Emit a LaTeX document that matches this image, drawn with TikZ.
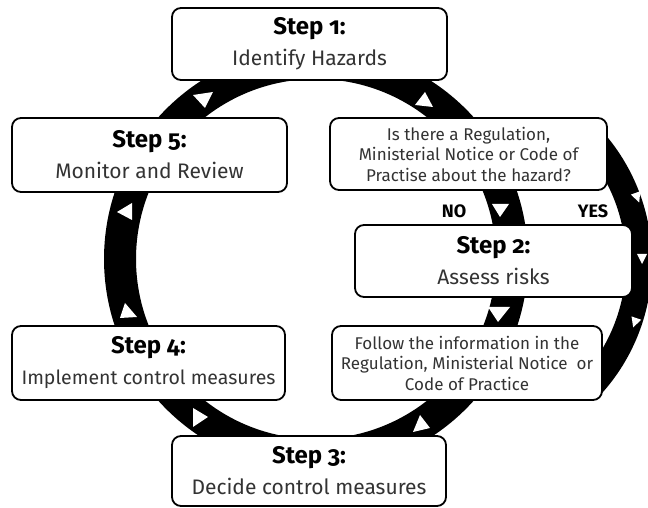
\documentclass[tikz,border=0pt]{standalone}
\usepackage{fontspec}
\setmainfont{Fira Sans}[Numbers=OldStyle]
\usetikzlibrary{calc}
\begin{document}
\begin{tikzpicture}[x=1pt,y=1pt,
  box/.style={draw=black, line width=1.8pt, rounded corners=9pt, fill=white, align=center, inner sep=0pt,
    font=\fontsize{21}{31}\selectfont, text=black!80},
  smallbox/.style={box, font=\fontsize{17}{20.5}\selectfont},
  tri/.style={fill=white, draw=none},
  lbl/.style={font=\fontsize{18}{18}\selectfont\bfseries, text=black, inner sep=0pt}]
\newcommand\stephead[1]{{\fontsize{24}{31}\selectfont\bfseries\color{black}#1}}
\useasboundingbox (0,0) rectangle (648,508);
\begin{scope}
\clip (0,0) rectangle (648,508);
% main ring
\fill[black, even odd rule] (316,249) circle[radius=212pt] (316,249) circle[radius=180pt];
% bypass (YES) arc
\coordinate (bc) at (455,246);
\fill[black] ($(bc)+(43:197pt)$) arc[start angle=43, end angle=-43, radius=197pt]
  -- ($(bc)+(-43:171pt)$) arc[start angle=-43, end angle=43, radius=171pt] -- cycle;
\end{scope}
% white arrow marks on the ring
\fill[tri] (193,413) -- (213,416) -- (205,400) -- cycle;
\fill[tri] (425,416) -- (415,403) -- (433,401) -- cycle;
\fill[tri] (117,296) -- (132,305) -- (132,288) -- cycle;
\fill[tri] (120,190) -- (125,205) -- (137,191) -- cycle;
\fill[tri] (193,100) -- (193,81) -- (208,91) -- cycle;
\fill[tri] (420,93) -- (413,76) -- (430,80) -- cycle;
\fill[tri] (492,304) -- (509,304) -- (500,291) -- cycle;
\fill[tri] (488,201) -- (510,201) -- (498,186) -- cycle;
\fill[tri] (639.2,305.5) -- (640.3,316.8) -- (630.9,313.4) -- cycle;
\fill[tri] (642,244) -- (637,254) -- (647,254) -- cycle;
\fill[tri] (633.2,180.5) -- (641.1,188.3) -- (631.5,191.6) -- cycle;
% boxes
\node[box, minimum width=275pt, minimum height=72pt] (s1) at (309.5,464)
  {\stephead{Step 1:}\\Identify Hazards};
\node[box, minimum width=275pt, minimum height=74pt] (s5) at (149.5,353)
  {\stephead{Step 5:}\\Monitor and Review};
\node[smallbox, minimum width=277pt, minimum height=72pt] (q) at (468.5,354)
  {Is there a Regulation,\\Ministerial Notice or Code of\\Practise about the hazard?};
\node[box, minimum width=277pt, minimum height=72pt] (s2) at (493.5,247)
  {\stephead{Step 2:}\\Assess risks};
\node[box, minimum width=273pt, minimum height=74pt] (s4) at (148.5,145)
  {\stephead{Step 4:}\\{\fontsize{19.5}{31}\selectfont Implement control measures}};
\node[smallbox, minimum width=270pt, minimum height=74pt] (f) at (467,145)
  {Follow the information in the\\Regulation, Ministerial Notice~~or\\Code of Practice};
\node[box, minimum width=274pt, minimum height=70pt] (s3) at (309,37)
  {\stephead{Step 3:}\\Decide control measures};
% labels
\node[lbl] (no) at (454,297) {NO};
\node[lbl] (yes) at (593,297) {YES};
\end{tikzpicture}
\end{document}
